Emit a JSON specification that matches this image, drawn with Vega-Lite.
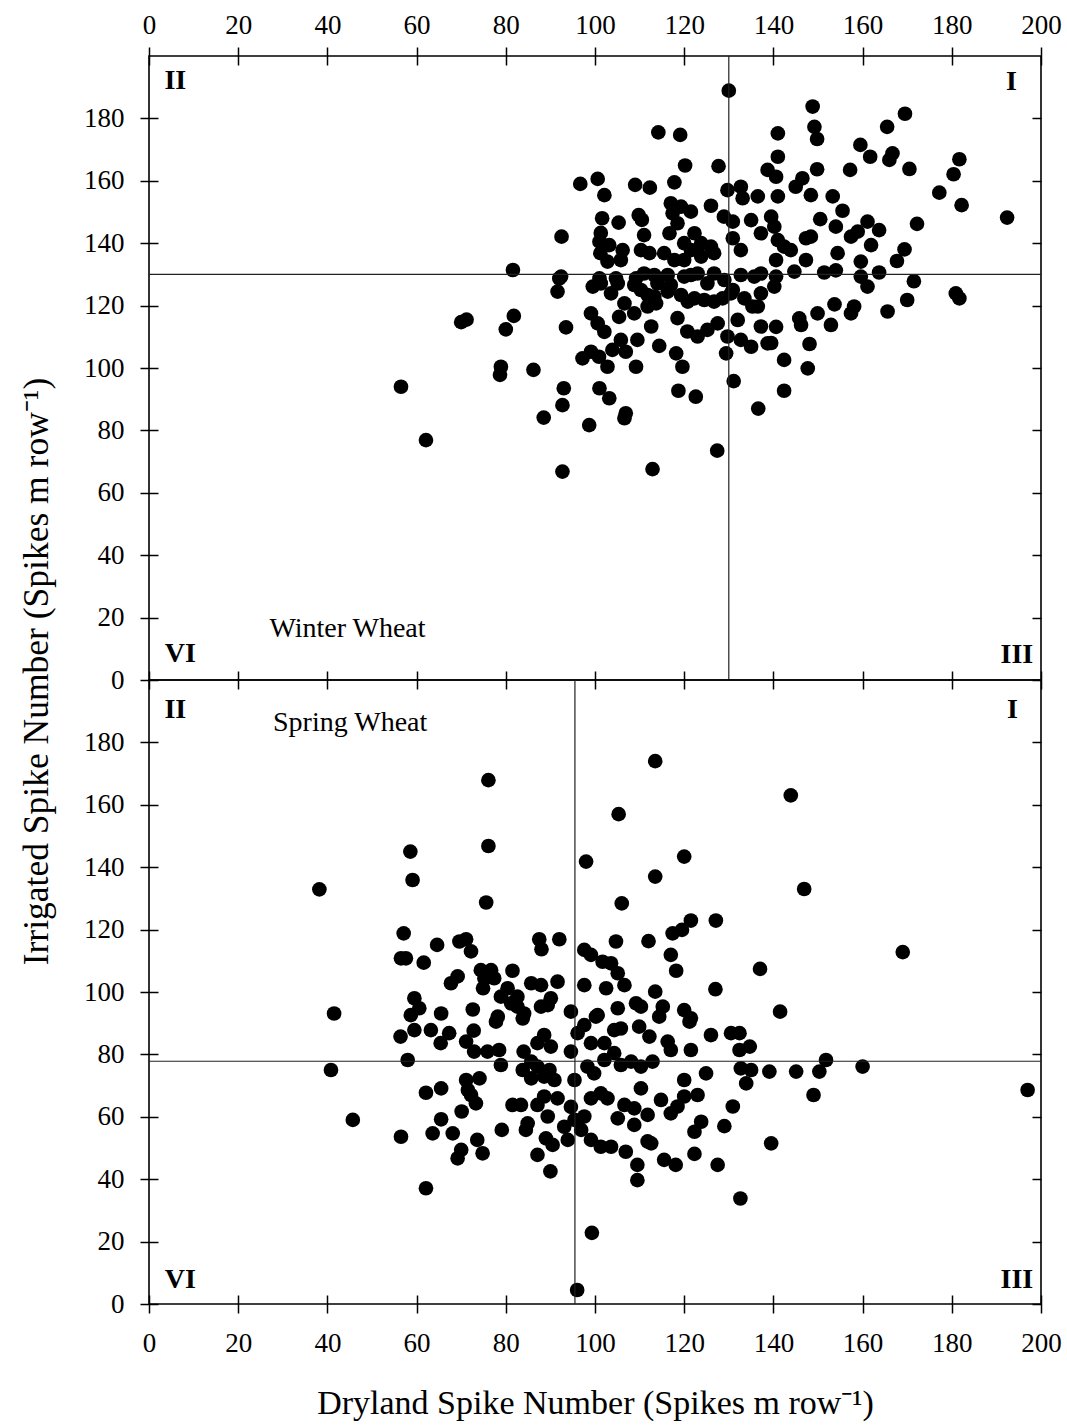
{
"$schema": "https://vega.github.io/schema/vega-lite/v6.json",
"background": "white",
"padding": {"left": 18, "top": 10, "right": 5, "bottom": 5},
"spacing": 0,
"bounds": "flush",
"config": {
  "font": "Liberation Serif",
  "view": {"stroke": "black", "strokeWidth": 1.6},
  "axis": {"grid": false, "domain": false, "labelFontSize": 27, "labelFont": "Liberation Serif", "labelColor": "black", "tickColor": "black", "tickWidth": 1.5, "titleColor": "black", "titleFont": "Liberation Serif", "titleFontWeight": "normal", "titleFontSize": 34, "labelFlush": false, "labelOverlap": false, "labelBound": false}
},
"datasets": {
"winter": [
{"dry":56.5,"irr":94},{"dry":62.1,"irr":76.9},{"dry":70,"irr":114.7},{"dry":71.2,"irr":115.5},{"dry":81.8,"irr":116.7},{"dry":80,"irr":112.4},{"dry":78.9,"irr":100.4},{"dry":78.7,"irr":97.8},{"dry":86.2,"irr":99.4},{"dry":88.5,"irr":84.1},{"dry":92.7,"irr":66.8},{"dry":93,"irr":93.5},{"dry":92.7,"irr":88.1},{"dry":91.6,"irr":124.5},{"dry":93.5,"irr":113},{"dry":81.6,"irr":131.4},
{"dry":130,"irr":188.9},{"dry":114.2,"irr":175.5},{"dry":119.1,"irr":174.7},{"dry":120.2,"irr":164.9},{"dry":127.7,"irr":164.7},{"dry":96.7,"irr":159},{"dry":100.6,"irr":160.6},{"dry":102.1,"irr":155.4},{"dry":109,"irr":158.7},{"dry":112.3,"irr":157.8},{"dry":117.8,"irr":159.5},{"dry":126,"irr":152},{"dry":92.5,"irr":142.1},{"dry":101.6,"irr":148},{"dry":105.3,"irr":146.6},{"dry":109.8,"irr":149},{"dry":110.5,"irr":147.5},{"dry":101.3,"irr":143.3},{"dry":101,"irr":140.5},{"dry":103.2,"irr":139.4},{"dry":101.2,"irr":136.8},{"dry":102.8,"irr":134.1},{"dry":106.2,"irr":137.8},{"dry":105.8,"irr":134.6},{"dry":111,"irr":142.6},{"dry":110.3,"irr":137.8},{"dry":112.2,"irr":136.8},{"dry":117,"irr":152.8},{"dry":119.3,"irr":151.7},{"dry":121.5,"irr":150.1},{"dry":117.4,"irr":149.6},{"dry":116.7,"irr":143.2},{"dry":118.5,"irr":146.4},{"dry":122.3,"irr":143.2},{"dry":123.8,"irr":140},{"dry":126,"irr":138.9},{"dry":120,"irr":140},{"dry":121.5,"irr":137.8},{"dry":115.5,"irr":136.8},{"dry":117.8,"irr":134.6},{"dry":120,"irr":134.6},{"dry":123.8,"irr":135.7},{"dry":126.7,"irr":136.8},{"dry":128.9,"irr":148.5},{"dry":130.9,"irr":146.9},{"dry":130.9,"irr":141.6},{"dry":132.7,"irr":137.8},{"dry":129.7,"irr":157},{"dry":132.7,"irr":158.1},{"dry":133.1,"irr":154.4},{"dry":136.5,"irr":155},{"dry":138.7,"irr":163.5},{"dry":141,"irr":175.2},{"dry":141,"irr":167.7},{"dry":140.6,"irr":161.3},{"dry":135,"irr":147.4},{"dry":137.2,"irr":143.2},{"dry":139.5,"irr":148.5},{"dry":92.4,"irr":129.3},
{"dry":148.8,"irr":183.8},{"dry":149.2,"irr":177.3},{"dry":149.8,"irr":173.4},{"dry":149.8,"irr":163.7},{"dry":157.2,"irr":163.5},{"dry":159.5,"irr":171.5},{"dry":161.7,"irr":167.7},{"dry":165.5,"irr":177.3},{"dry":169.5,"irr":181.5},{"dry":166.7,"irr":168.8},{"dry":166,"irr":166.7},{"dry":170.5,"irr":163.8},{"dry":181.7,"irr":166.9},{"dry":180.4,"irr":162.1},{"dry":177.2,"irr":156.2},{"dry":182.2,"irr":152.2},{"dry":192.4,"irr":148.2},{"dry":172.2,"irr":146.2},{"dry":169.4,"irr":138},{"dry":167.7,"irr":134.3},{"dry":146.5,"irr":160.8},{"dry":145,"irr":158.1},{"dry":148.4,"irr":155.4},{"dry":141,"irr":155},{"dry":153.3,"irr":155},{"dry":155.5,"irr":150.4},{"dry":150.5,"irr":147.7},{"dry":154,"irr":145.3},{"dry":157.4,"irr":142.1},{"dry":158.9,"irr":143.7},{"dry":161.1,"irr":146.9},{"dry":163.7,"irr":144.2},{"dry":161.9,"irr":139.4},{"dry":154.4,"irr":136.8},{"dry":159.6,"irr":134.1},{"dry":163.7,"irr":130.6},{"dry":151.4,"irr":130.6},{"dry":154,"irr":131.3},{"dry":147.3,"irr":141.6},{"dry":148.4,"irr":142.1},{"dry":147.3,"irr":134.6},{"dry":143.9,"irr":137.8},{"dry":142.4,"irr":138.9},{"dry":140.2,"irr":145.3},{"dry":141,"irr":141},{"dry":140.6,"irr":134.6},{"dry":159.6,"irr":129.3},
{"dry":171.5,"irr":127.8},{"dry":180.9,"irr":123.9},{"dry":181.7,"irr":122.3},{"dry":170,"irr":121.8},{"dry":165.6,"irr":118.1},{"dry":158.1,"irr":119.7},{"dry":157.4,"irr":117.5},{"dry":153.7,"irr":120.4},{"dry":152.9,"irr":113.8},{"dry":149.9,"irr":117.5},{"dry":145.8,"irr":115.9},{"dry":146.2,"irr":113.8},{"dry":148.1,"irr":107.7},{"dry":142.4,"irr":102.6},{"dry":147.7,"irr":99.9},{"dry":142.4,"irr":92.7},{"dry":140.6,"irr":113.2},{"dry":139.5,"irr":108},{"dry":140.2,"irr":126.1},{"dry":140.6,"irr":129.3},{"dry":144.7,"irr":130.9},{"dry":161.1,"irr":126.1},
{"dry":92,"irr":128.7},{"dry":99.1,"irr":117.5},{"dry":100.6,"irr":114.3},{"dry":102.1,"irr":111.6},{"dry":99.5,"irr":126.1},{"dry":101.3,"irr":127.1},{"dry":103.6,"irr":123.9},{"dry":105.1,"irr":127.1},{"dry":106.6,"irr":120.7},{"dry":108.8,"irr":126.6},{"dry":97.2,"irr":103.1},{"dry":99.1,"irr":105.2},{"dry":100.9,"irr":103.6},{"dry":102.8,"irr":100.4},{"dry":103.9,"irr":105.8},{"dry":105.8,"irr":109},{"dry":106.9,"irr":105.2},{"dry":109.5,"irr":109},{"dry":109.2,"irr":100.4},{"dry":105.4,"irr":116.4},{"dry":108.8,"irr":117.5},{"dry":111.8,"irr":119.7},{"dry":113.3,"irr":122.9},{"dry":112.6,"irr":113.3},{"dry":114.4,"irr":107.1},{"dry":118.2,"irr":104.7},{"dry":119.6,"irr":100.4},{"dry":118.5,"irr":116},{"dry":120.7,"irr":111.7},{"dry":123,"irr":110.1},{"dry":125.2,"irr":112.2},{"dry":127.5,"irr":114.3},{"dry":129.7,"irr":110.1},{"dry":132,"irr":115.4},{"dry":132.7,"irr":109},{"dry":135,"irr":106.8},{"dry":129.4,"irr":104.7},{"dry":131.1,"irr":95.8},{"dry":136.5,"irr":119.7},{"dry":137.2,"irr":113.3},{"dry":138.7,"irr":107.9},{"dry":136.6,"irr":87},{"dry":127.4,"irr":73.5},{"dry":98.7,"irr":81.7},{"dry":101,"irr":93.5},{"dry":103.2,"irr":90.3},{"dry":106.9,"irr":85.5},{"dry":106.6,"irr":83.9},{"dry":118.7,"irr":92.7},{"dry":122.6,"irr":90.8},{"dry":112.9,"irr":67.6},
{"dry":111,"irr":130.3},{"dry":113.3,"irr":129.8},{"dry":116.3,"irr":129.8},{"dry":114,"irr":127.1},{"dry":117,"irr":126.6},{"dry":120,"irr":129.3},{"dry":121.5,"irr":129.8},{"dry":123,"irr":130.3},{"dry":125.2,"irr":127.1},{"dry":126.7,"irr":130.3},{"dry":129,"irr":128.2},{"dry":130.9,"irr":125},{"dry":132.7,"irr":129.8},{"dry":135.7,"irr":129.3},{"dry":137.2,"irr":130.3},{"dry":110.3,"irr":125},{"dry":111.8,"irr":123.4},{"dry":113.7,"irr":120.7},{"dry":116.3,"irr":124.5},{"dry":119.3,"irr":123.4},{"dry":120.8,"irr":121.3},{"dry":122.3,"irr":122.3},{"dry":124.5,"irr":121.8},{"dry":126.7,"irr":121.3},{"dry":128.6,"irr":122.3},{"dry":130.5,"irr":123.9},{"dry":133.5,"irr":122.3},{"dry":135.3,"irr":119.7},{"dry":137.2,"irr":123.9},{"dry":101,"irr":128.7},{"dry":104.7,"irr":128.7},{"dry":109.2,"irr":128.7}
],
"spring": [
{"dry":76.1,"irr":167.9},{"dry":76.1,"irr":146.8},{"dry":58.6,"irr":145},{"dry":59.1,"irr":135.9},{"dry":38.2,"irr":132.9},{"dry":75.6,"irr":128.7},{"dry":98,"irr":141.8},{"dry":105.3,"irr":157},{"dry":106,"irr":128.4},{"dry":57.1,"irr":118.8},{"dry":64.6,"irr":115.1},{"dry":69.6,"irr":116.2},{"dry":71.1,"irr":116.9},{"dry":72.2,"irr":113},{"dry":57.6,"irr":110.8},{"dry":56.5,"irr":110.8},{"dry":61.6,"irr":109.4},{"dry":87.5,"irr":116.9},{"dry":88,"irr":113.7},{"dry":92,"irr":116.9},{"dry":81.5,"irr":106.8},{"dry":74.4,"irr":107},{"dry":76.7,"irr":107},{"dry":75.2,"irr":104.4},{"dry":77.4,"irr":104.4},{"dry":74.9,"irr":101.2},{"dry":67.7,"irr":102.8},{"dry":69.2,"irr":105},{"dry":80.4,"irr":101.2},{"dry":78.9,"irr":98.5},{"dry":82.6,"irr":98.5},{"dry":82.6,"irr":95.3},{"dry":84.1,"irr":93.1},{"dry":85.7,"irr":102.8},{"dry":87.9,"irr":102.2},{"dry":91.6,"irr":103.3},{"dry":90.1,"irr":98},{"dry":87.9,"irr":95.3},{"dry":59.5,"irr":98},{"dry":60.6,"irr":94.8},{"dry":58.7,"irr":92.6},{"dry":41.5,"irr":93.1},{"dry":65.5,"irr":93.1},{"dry":72.6,"irr":94.4},{"dry":78.2,"irr":92.1},{"dry":94.6,"irr":93.7},{"dry":97.6,"irr":113.5},{"dry":99.1,"irr":111.9},{"dry":101.7,"irr":109.7},{"dry":103.6,"irr":109.2},{"dry":97.6,"irr":102.2},{"dry":102.5,"irr":101.2},{"dry":105.1,"irr":106},{"dry":104.7,"irr":116.2},{"dry":100.6,"irr":92.6},{"dry":105.1,"irr":94.8},
{"dry":113.5,"irr":174},{"dry":143.9,"irr":163},{"dry":120,"irr":143.4},{"dry":113.5,"irr":137},{"dry":146.9,"irr":133},{"dry":121.5,"irr":122.9},{"dry":119.5,"irr":119.9},{"dry":117.4,"irr":118.8},{"dry":127.1,"irr":122.9},{"dry":112,"irr":116.3},{"dry":117,"irr":111.9},{"dry":118.2,"irr":106.8},{"dry":137,"irr":107.4},{"dry":169,"irr":112.8},{"dry":106.6,"irr":102.2},{"dry":127,"irr":100.9},{"dry":113.5,"irr":100.1},{"dry":115.2,"irr":95.3},{"dry":109.2,"irr":96.4},{"dry":110.3,"irr":95.3},{"dry":120,"irr":94.2},{"dry":121.5,"irr":91.6},{"dry":114.4,"irr":92.1},{"dry":141.5,"irr":93.7},
{"dry":40.8,"irr":75},{"dry":45.7,"irr":59},{"dry":56.5,"irr":53.6},{"dry":62.1,"irr":37.1},{"dry":58,"irr":78.2},{"dry":56.4,"irr":85.7},{"dry":59.5,"irr":87.8},{"dry":63.2,"irr":87.8},{"dry":67.3,"irr":86.8},{"dry":65.4,"irr":83.6},{"dry":72.8,"irr":87.6},{"dry":71.1,"irr":84.1},{"dry":72.9,"irr":80.9},{"dry":75.9,"irr":80.9},{"dry":78.5,"irr":81.4},{"dry":78.9,"irr":76.6},{"dry":77.8,"irr":90.5},{"dry":83.8,"irr":91.5},{"dry":81.2,"irr":96.4},{"dry":89.4,"irr":95.8},{"dry":84,"irr":80.9},{"dry":85.7,"irr":77.7},{"dry":83.8,"irr":75},{"dry":87.1,"irr":76.1},{"dry":85.7,"irr":72.3},{"dry":88.6,"irr":72.9},{"dry":89.8,"irr":75},{"dry":88.6,"irr":86.2},{"dry":90.1,"irr":82.5},{"dry":87.1,"irr":83.6},{"dry":96.1,"irr":86.8},{"dry":94.6,"irr":80.9},{"dry":95.4,"irr":71.8},{"dry":94.6,"irr":63.2},{"dry":90.9,"irr":71.8},{"dry":88.6,"irr":66.5},{"dry":87.1,"irr":63.8},{"dry":91.6,"irr":65.9},{"dry":81.5,"irr":63.8},{"dry":83.4,"irr":63.8},{"dry":84.9,"irr":57.9},{"dry":84.5,"irr":55.8},{"dry":89.4,"irr":60.1},{"dry":93.1,"irr":56.8},{"dry":93.9,"irr":52.6},{"dry":89,"irr":53.1},{"dry":90.5,"irr":51},{"dry":87.1,"irr":47.8},{"dry":90,"irr":42.5},{"dry":79.1,"irr":55.8},{"dry":71.1,"irr":71.8},{"dry":74.1,"irr":72.3},{"dry":71.5,"irr":68.6},{"dry":72.2,"irr":67},{"dry":73.3,"irr":64.3},{"dry":62.1,"irr":67.7},{"dry":65.5,"irr":69.1},{"dry":70.1,"irr":61.7},{"dry":65.5,"irr":59.2},{"dry":63.6,"irr":54.7},{"dry":68.1,"irr":54.7},{"dry":73.6,"irr":52.6},{"dry":74.8,"irr":48.3},{"dry":70,"irr":49.4},{"dry":69.2,"irr":46.7},
{"dry":126,"irr":86.2},{"dry":130.5,"irr":86.8},{"dry":132.4,"irr":86.8},{"dry":134.7,"irr":82.5},{"dry":132.4,"irr":81.4},{"dry":121.5,"irr":81.4},{"dry":116.3,"irr":84.1},{"dry":117,"irr":81.4},{"dry":121.2,"irr":90.5},{"dry":109.9,"irr":88.9},{"dry":112.2,"irr":85.7},{"dry":100.2,"irr":92.1},{"dry":104.3,"irr":87.8},{"dry":105.8,"irr":88.3},{"dry":97.6,"irr":89.4},{"dry":99.1,"irr":83.6},{"dry":102.1,"irr":83.6},{"dry":104.3,"irr":80.4},{"dry":98.3,"irr":76.1},{"dry":99.8,"irr":73.9},{"dry":102.1,"irr":78.2},{"dry":105.8,"irr":76.6},{"dry":108.1,"irr":77.7},{"dry":110.3,"irr":76.1},{"dry":112.9,"irr":77.7},{"dry":120,"irr":71.8},{"dry":124.9,"irr":73.9},{"dry":133.9,"irr":70.7},{"dry":132.7,"irr":75.5},{"dry":135,"irr":75},{"dry":139.1,"irr":74.5},{"dry":145.1,"irr":74.5},{"dry":150.3,"irr":74.5},{"dry":151.8,"irr":78.2},{"dry":149,"irr":67},{"dry":139.5,"irr":51.5},{"dry":132.6,"irr":33.8},{"dry":130.9,"irr":63.3},{"dry":129,"irr":57},{"dry":123,"irr":67},{"dry":123.8,"irr":58.4},{"dry":122.3,"irr":55.2},{"dry":120,"irr":66.5},{"dry":118.5,"irr":63.3},{"dry":117,"irr":61.1},{"dry":114.8,"irr":65.4},{"dry":110.3,"irr":69.1},{"dry":106.6,"irr":63.8},{"dry":108.8,"irr":62.7},{"dry":111.8,"irr":60.6},{"dry":105.1,"irr":59.5},{"dry":108.8,"irr":57.4},{"dry":111.8,"irr":52.1},{"dry":112.6,"irr":51.5},{"dry":101.3,"irr":67.5},{"dry":102.8,"irr":65.9},{"dry":99.1,"irr":65.9},{"dry":97.6,"irr":60.1},{"dry":95.4,"irr":59},{"dry":96.9,"irr":55.8},{"dry":99.1,"irr":52.6},{"dry":101.3,"irr":50.4},{"dry":103.6,"irr":50.4},{"dry":106.9,"irr":48.8},{"dry":109.5,"irr":44.6},{"dry":109.5,"irr":39.7},{"dry":115.5,"irr":46.2},{"dry":118.1,"irr":44.6},{"dry":122.3,"irr":48.1},{"dry":127.5,"irr":44.6},
{"dry":160,"irr":76.1},{"dry":197,"irr":68.6},{"dry":99.3,"irr":22.8},{"dry":96,"irr":4.5}
]
},
"vconcat": [
{
  "width": 892, "height": 624,
  "layer": [
    {"data": {"name": "winter"}, "mark": {"type": "circle", "size": 215, "color": "black", "opacity": 1},
     "encoding": {
       "x": {"field": "dry", "type": "quantitative", "scale": {"domain": [0, 200], "nice": false, "zero": false},
             "axis": {"orient": "top", "values": [0,20,40,60,80,100,120,140,160,180,200], "offset": -9, "tickSize": 18, "labelPadding": 8, "title": null}},
       "y": {"field": "irr", "type": "quantitative", "scale": {"domain": [0, 200], "nice": false, "zero": false},
             "axis": {"orient": "left", "values": [0,20,40,60,80,100,120,140,160,180], "offset": -9, "tickSize": 18, "labelPadding": 16, "title": "Irrigated Spike Number (Spikes m row⁻¹)", "titleFontSize": 35.5, "titleY": 615, "titleX": -104}}
     }},
    {"data": {"values": [{"v": 130}]}, "mark": {"type": "rule", "color": "#222", "strokeWidth": 1.2},
     "encoding": {"y": {"field": "v", "type": "quantitative", "scale": {"domain": [0, 200], "nice": false, "zero": false},
       "axis": {"orient": "right", "values": [0,20,40,60,80,100,120,140,160,180], "offset": -9, "tickSize": 9, "labels": false, "title": null}}}},
    {"data": {"values": [{"v": 130}]}, "mark": {"type": "rule", "color": "#222", "strokeWidth": 1.2},
     "encoding": {"x": {"field": "v", "type": "quantitative", "scale": {"domain": [0, 200], "nice": false, "zero": false},
       "axis": {"orient": "bottom", "values": [0,20,40,60,80,100,120,140,160,180,200], "offset": -9, "tickSize": 18, "labels": false, "title": null}}}},
    {"data": {"values": [{"q": "II", "x": 5.9, "y": 192}, {"q": "I", "x": 193.4, "y": 191.7}, {"q": "VI", "x": 7, "y": 8.2}, {"q": "III", "x": 194.6, "y": 8}]},
     "mark": {"type": "text", "fontWeight": "bold", "fontSize": 28, "font": "Liberation Serif", "color": "black", "align": "center", "baseline": "middle"},
     "encoding": {"x": {"field": "x", "type": "quantitative", "scale": {"domain": [0, 200], "nice": false, "zero": false}, "axis": null},
                  "y": {"field": "y", "type": "quantitative", "scale": {"domain": [0, 200], "nice": false, "zero": false}, "axis": null},
                  "text": {"field": "q"}}},
    {"data": {"values": [{"name": "Winter Wheat", "x": 44.5, "y": 16.2}]},
     "mark": {"type": "text", "fontSize": 28, "font": "Liberation Serif", "color": "black", "align": "center", "baseline": "middle"},
     "encoding": {"x": {"field": "x", "type": "quantitative", "scale": {"domain": [0, 200], "nice": false, "zero": false}, "axis": null},
                  "y": {"field": "y", "type": "quantitative", "scale": {"domain": [0, 200], "nice": false, "zero": false}, "axis": null},
                  "text": {"field": "name"}}}
  ],
  "resolve": {"axis": {"x": "independent", "y": "independent"}}
},
{
  "width": 892, "height": 624,
  "layer": [
    {"data": {"name": "spring"}, "mark": {"type": "circle", "size": 215, "color": "black", "opacity": 1},
     "encoding": {
       "x": {"field": "dry", "type": "quantitative", "scale": {"domain": [0, 200], "nice": false, "zero": false},
             "axis": {"orient": "bottom", "values": [0,20,40,60,80,100,120,140,160,180,200], "offset": -9, "tickSize": 18, "labelPadding": 17, "title": "Dryland Spike Number (Spikes m row⁻¹)", "titlePadding": 30}},
       "y": {"field": "irr", "type": "quantitative", "scale": {"domain": [0, 200], "nice": false, "zero": false},
             "axis": {"orient": "left", "values": [0,20,40,60,80,100,120,140,160,180], "offset": -9, "tickSize": 18, "labelPadding": 16, "title": null}}
     }},
    {"data": {"values": [{"v": 77.8}]}, "mark": {"type": "rule", "color": "#222", "strokeWidth": 1.2},
     "encoding": {"y": {"field": "v", "type": "quantitative", "scale": {"domain": [0, 200], "nice": false, "zero": false},
       "axis": {"orient": "right", "values": [0,20,40,60,80,100,120,140,160,180], "offset": -9, "tickSize": 9, "labels": false, "title": null}}}},
    {"data": {"values": [{"v": 95.5}]}, "mark": {"type": "rule", "color": "#222", "strokeWidth": 1.2},
     "encoding": {"x": {"field": "v", "type": "quantitative", "scale": {"domain": [0, 200], "nice": false, "zero": false}, "axis": null}}},
    {"data": {"values": [{"q": "II", "x": 5.9, "y": 190.4}, {"q": "I", "x": 193.6, "y": 190.4}, {"q": "VI", "x": 7, "y": 7.7}, {"q": "III", "x": 194.6, "y": 7.7}]},
     "mark": {"type": "text", "fontWeight": "bold", "fontSize": 28, "font": "Liberation Serif", "color": "black", "align": "center", "baseline": "middle"},
     "encoding": {"x": {"field": "x", "type": "quantitative", "scale": {"domain": [0, 200], "nice": false, "zero": false}, "axis": null},
                  "y": {"field": "y", "type": "quantitative", "scale": {"domain": [0, 200], "nice": false, "zero": false}, "axis": null},
                  "text": {"field": "q"}}},
    {"data": {"values": [{"name": "Spring Wheat", "x": 45.1, "y": 186.2}]},
     "mark": {"type": "text", "fontSize": 28, "font": "Liberation Serif", "color": "black", "align": "center", "baseline": "middle"},
     "encoding": {"x": {"field": "x", "type": "quantitative", "scale": {"domain": [0, 200], "nice": false, "zero": false}, "axis": null},
                  "y": {"field": "y", "type": "quantitative", "scale": {"domain": [0, 200], "nice": false, "zero": false}, "axis": null},
                  "text": {"field": "name"}}}
  ],
  "resolve": {"axis": {"x": "independent", "y": "independent"}}
}
]
}
